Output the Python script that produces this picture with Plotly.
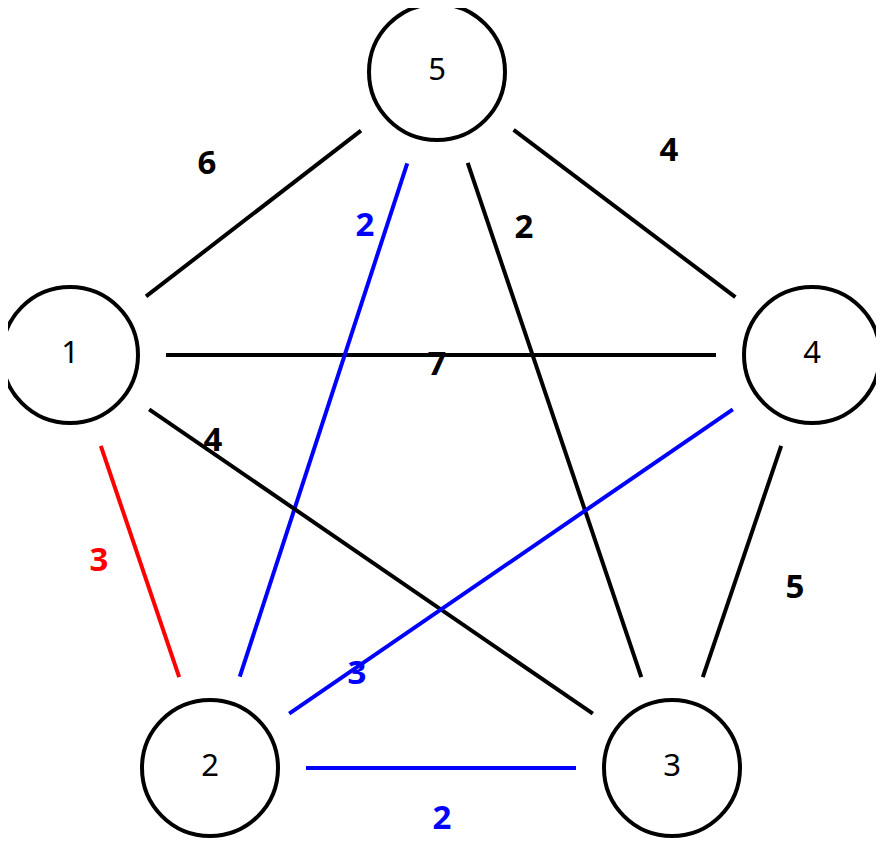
import plotly.graph_objects as go
import math

node_ids = ["1", "2", "3", "4", "5"]
node_x = [70, 210, 672, 812, 437]
node_y = [355, 768, 768, 355, 72]
node_r = 68

edge_from = ["1", "5", "1", "5", "5", "1", "4", "1", "4", "2"]
edge_to   = ["5", "4", "4", "2", "3", "3", "2", "2", "3", "3"]
edge_w    = [6, 4, 7, 2, 2, 4, 3, 3, 5, 2]
edge_col  = ["black", "black", "black", "blue", "black", "black", "blue", "red", "black", "blue"]
label_x   = [207, 669, 437, 365, 524, 213, 357, 99, 795, 442]
label_y   = [166, 153, 367, 228, 230, 443, 676, 563, 590, 821]
gap = 96

pos = {n: (x, y) for n, x, y in zip(node_ids, node_x, node_y)}
fig = go.Figure()
for a, b, c in zip(edge_from, edge_to, edge_col):
    (x0, y0), (x1, y1) = pos[a], pos[b]
    d = math.hypot(x1 - x0, y1 - y0)
    ux, uy = (x1 - x0) / d, (y1 - y0) / d
    fig.add_trace(go.Scatter(x=[x0 + ux * gap, x1 - ux * gap], y=[y0 + uy * gap, y1 - uy * gap],
                             mode="lines", line=dict(color=c, width=4), hoverinfo="skip"))
fig.add_trace(go.Scatter(x=label_x, y=label_y, mode="text", text=[str(w) for w in edge_w],
                         textfont=dict(size=33, color=edge_col, family="Noto Sans"),
                         texttemplate="<b>%{text}</b>", hoverinfo="skip"))
fig.add_trace(go.Scatter(x=node_x, y=node_y, mode="text", text=node_ids,
                         textfont=dict(size=31, color="black", family="Noto Sans"), hoverinfo="skip"))
for x, y in zip(node_x, node_y):
    fig.add_shape(type="circle", x0=x - node_r, x1=x + node_r, y0=y - node_r, y1=y + node_r,
                  line=dict(color="black", width=4))
fig.update_layout(width=884, height=864, margin=dict(l=0, r=0, t=0, b=0),
                  plot_bgcolor="white", paper_bgcolor="white", showlegend=False,
                  xaxis=dict(range=[8, 892], visible=False, fixedrange=True),
                  yaxis=dict(range=[872, 8], visible=False, fixedrange=True))
fig.write_html("out.html")
